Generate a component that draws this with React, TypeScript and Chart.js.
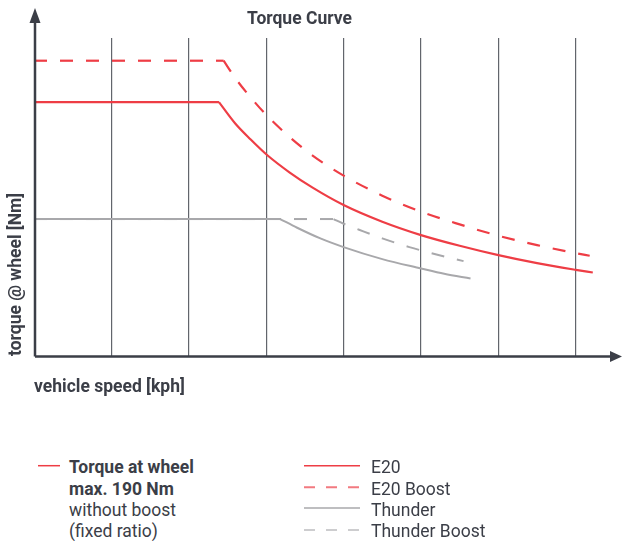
import { useEffect, useRef } from 'react'
import { Chart, registerables } from 'chart.js'

Chart.register(...registerables)

// speed in grid units (one unit per vertical grid line), torque in Nm at wheel
// index 1 of each series is the knee where the flat part ends
const e20Speed = [0, 2.39, 2.6, 2.8, 3.0, 3.3, 3.6, 4.0, 4.5, 5.0, 5.5, 6.0, 6.5, 7.0, 7.22]
const e20Torque = [190, 190, 174, 162, 151, 137.5, 126, 113, 100.5, 90.5, 82.5, 75.5, 69.5, 64.5, 62.5]

const e20BoostSpeed = [0, 2.45, 2.6, 2.8, 3.0, 3.3, 3.6, 4.0, 4.5, 5.0, 5.5, 6.0, 6.5, 7.0, 7.18]
const e20BoostTorque = [221, 221, 208, 193.5, 180.5, 164, 150, 135, 120, 108, 98.5, 90, 83, 77, 75]

const thunderSpeed = [0, 3.18, 3.4, 3.7, 4.0, 4.5, 5.0, 5.3, 5.64]
const thunderTorque = [102.5, 102.5, 96, 88, 81.5, 72.5, 65.5, 61.5, 58]

const thunderBoostSpeed = [0, 3.87, 4.0, 4.2, 4.5, 4.85, 5.2, 5.55]
const thunderBoostTorque = [102.5, 102.5, 99, 94.5, 88, 81.5, 76, 71]

const X_MAX = 7.3
const Y_MAX = 238

const RED = '#ee3d45'
const GRAY = '#a8a8ab'
const INK = '#3b3e47'
const GRID = '#62656c'
const FONT = 'Roboto, "Noto Sans", sans-serif'

const pts = (xs: number[], ys: number[]) => xs.map((x, i) => ({ x, y: ys[i] }))

// flat part drawn straight, the falling part as a smooth curve, so the knee stays sharp
function series(label: string, xs: number[], ys: number[], color: string, width: number, dash: number[]) {
  const all = pts(xs, ys)
  const base = { label, borderColor: color, borderWidth: width, borderDash: dash, pointRadius: 0, fill: false }
  return [
    { ...base, data: all.slice(0, 2), tension: 0 },
    { ...base, data: all.slice(1), cubicInterpolationMode: 'monotone' as const },
  ]
}

const arrows = {
  id: 'arrows',
  afterDatasetsDraw(chart: Chart) {
    const { ctx, chartArea: a } = chart
    const x0 = a.left + 1
    const y0 = a.bottom + 0.5
    ctx.save()
    ctx.strokeStyle = INK
    ctx.fillStyle = INK
    ctx.lineWidth = 2.5
    ctx.beginPath()
    ctx.moveTo(x0, y0)
    ctx.lineTo(x0, 22)
    ctx.moveTo(x0, y0)
    ctx.lineTo(611, y0)
    ctx.stroke()
    ctx.beginPath()
    ctx.moveTo(x0, 8)
    ctx.lineTo(x0 - 5.5, 23)
    ctx.lineTo(x0 + 5.5, 23)
    ctx.closePath()
    ctx.fill()
    ctx.beginPath()
    ctx.moveTo(622, y0)
    ctx.lineTo(610, y0 - 5.5)
    ctx.lineTo(610, y0 + 5.5)
    ctx.closePath()
    ctx.fill()
    ctx.restore()
  },
}

function TorqueChart() {
  const ref = useRef<HTMLCanvasElement>(null)
  const chartRef = useRef<Chart | null>(null)

  useEffect(() => {
    if (!ref.current) return
    if (chartRef.current) chartRef.current.destroy()

    const labelFont = { family: FONT, size: 17.5, weight: 'bold' as const }

    chartRef.current = new Chart(ref.current, {
      type: 'line',
      data: {
        datasets: [
          ...series('Thunder', thunderSpeed, thunderTorque, GRAY, 2, []),
          ...series('Thunder Boost', thunderBoostSpeed, thunderBoostTorque, GRAY, 2, [13, 13]),
          ...series('E20', e20Speed, e20Torque, RED, 2.2, []),
          ...series('E20 Boost', e20BoostSpeed, e20BoostTorque, RED, 2.2, [13, 13]),
        ],
      },
      options: {
        animation: false,
        responsive: true,
        maintainAspectRatio: false,
        layout: { padding: { left: 0, right: 23, top: 0, bottom: 1.5 } },
        plugins: {
          legend: { display: false },
          tooltip: { enabled: false },
          title: {
            display: true,
            text: 'Torque Curve',
            color: INK,
            font: labelFont,
            padding: { top: 9.5, bottom: 7.5 },
          },
        },
        scales: {
          x: {
            type: 'linear',
            min: 0,
            max: X_MAX,
            border: { display: false },
            ticks: { display: false, stepSize: 1, includeBounds: false },
            grid: {
              drawTicks: false,
              lineWidth: 1.2,
              color: (c: any) => (c.tick && c.tick.value === 0 ? 'transparent' : GRID),
            },
            title: {
              display: true,
              text: 'vehicle speed [kph]',
              align: 'start',
              color: INK,
              font: labelFont,
              padding: { top: 21.5, bottom: 0 },
            },
          },
          y: {
            type: 'linear',
            min: 0,
            max: Y_MAX,
            border: { display: false },
            ticks: { display: false },
            grid: { display: false, drawTicks: false },
            title: {
              display: true,
              text: 'torque @ wheel [Nm]',
              align: 'start',
              color: INK,
              font: labelFont,
              padding: { top: 6.5, bottom: 6.5 },
            },
          },
        },
      },
      plugins: [arrows],
    })

    return () => { chartRef.current?.destroy() }
  }, [])

  return (
    <div style={{ position: 'relative', width: 622, height: 400 }}>
      <canvas ref={ref} />
    </div>
  )
}

const legendItems = [
  { label: 'E20', color: RED, dash: '', width: 1.5, y: 465.7 },
  { label: 'E20 Boost', color: '#f27a80', dash: '11 11', width: 2, y: 487.3 },
  { label: 'Thunder', color: GRAY, dash: '', width: 1.5, y: 508 },
  { label: 'Thunder Boost', color: '#bdbdc0', dash: '11 11', width: 1.5, y: 530 },
]

export default function App() {
  const text = { position: 'absolute' as const, fontFamily: FONT, fontSize: 17.5, color: INK, lineHeight: '21.3px', whiteSpace: 'nowrap' as const }
  return (
    <div style={{ position: 'absolute', left: 0, top: 0, width: 622, height: 541, background: '#fff', overflow: 'hidden' }}>
      <TorqueChart />
      <div style={{ ...text, left: 69, top: 457.4 }}>
        <div style={{ fontWeight: 700 }}>Torque at wheel</div>
        <div style={{ fontWeight: 700 }}>max. 190 Nm</div>
        <div>without boost</div>
        <div>(fixed ratio)</div>
      </div>
      <svg style={{ position: 'absolute', left: 0, top: 0 }} width={622} height={541}>
        <line x1={38} x2={60} y1={465.7} y2={465.7} stroke={RED} strokeWidth={1.5} />
        {legendItems.map((it) => (
          <line key={it.label} x1={304} x2={360} y1={it.y} y2={it.y} stroke={it.color} strokeWidth={it.width} strokeDasharray={it.dash || undefined} />
        ))}
      </svg>
      <div style={{ ...text, left: 371, top: 457.4 }}>
        {legendItems.map((it) => <div key={it.label}>{it.label}</div>)}
      </div>
    </div>
  )
}
